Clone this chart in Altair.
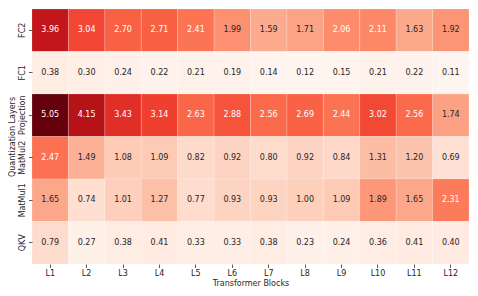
import altair as alt
import pandas as pd

rows = ["FC2", "FC1", "Projection", "MatMul2", "MatMul1", "QKV"]
cols = ["L1", "L2", "L3", "L4", "L5", "L6", "L7", "L8", "L9", "L10", "L11", "L12"]

fc2 = [3.96, 3.04, 2.70, 2.71, 2.41, 1.99, 1.59, 1.71, 2.06, 2.11, 1.63, 1.92]
fc1 = [0.38, 0.30, 0.24, 0.22, 0.21, 0.19, 0.14, 0.12, 0.15, 0.21, 0.22, 0.11]
projection = [5.05, 4.15, 3.43, 3.14, 2.63, 2.88, 2.56, 2.69, 2.44, 3.02, 2.56, 1.74]
matmul2 = [2.47, 1.49, 1.08, 1.09, 0.82, 0.92, 0.80, 0.92, 0.84, 1.31, 1.20, 0.69]
matmul1 = [1.65, 0.74, 1.01, 1.27, 0.77, 0.93, 0.93, 1.00, 1.09, 1.89, 1.65, 2.31]
qkv = [0.79, 0.27, 0.38, 0.41, 0.33, 0.33, 0.38, 0.23, 0.24, 0.36, 0.41, 0.40]

series = [fc2, fc1, projection, matmul2, matmul1, qkv]

records = []
for r, vals in zip(rows, series):
    for c, v in zip(cols, vals):
        records.append({"layer": r, "block": c, "value": v})
df = pd.DataFrame(records)

# matplotlib "Reds" colormap anchor colours
reds = ["#fff5f0", "#fee0d2", "#fcbba1", "#fc9272", "#fb6a4a",
        "#ef3b2c", "#cb181d", "#a50f15", "#67000d"]
vmin = float(df["value"].min())
vmax = float(df["value"].max())
stops = [vmin + (vmax - vmin) * i / (len(reds) - 1) for i in range(len(reds))]

FONT = "DejaVu Sans"

base = alt.Chart(df).encode(
    x=alt.X("block:N", sort=cols, title="Transformer Blocks",
            axis=alt.Axis(labelAngle=0)),
    y=alt.Y("layer:N", sort=rows, title="Quantization Layers",
            axis=alt.Axis(labelAngle=270, labelAlign="center",
                          labelBaseline="bottom")),
)

heat = base.mark_rect(stroke="white", strokeWidth=0.5, strokeOpacity=0.35).encode(
    color=alt.Color("value:Q",
                    scale=alt.Scale(domain=stops, range=reds, interpolate="rgb"),
                    legend=None)
)

labels = base.mark_text(font=FONT, fontSize=8).encode(
    text=alt.Text("value:Q", format=".2f"),
    color=alt.condition("datum.value >= 2", alt.value("white"), alt.value("#262626")),
)

chart = (heat + labels).properties(
    width=462,
    height=280,
    padding=0,
    autosize=alt.AutoSizeParams(type="fit", contains="padding"),
).configure_view(
    strokeWidth=0
).configure_axis(
    labelFont=FONT,
    titleFont=FONT,
    labelFontSize=8,
    titleFontSize=8,
    titleFontWeight="normal",
    labelColor="#262626",
    titleColor="#262626",
    domain=False,
    grid=False,
    tickSize=3.5,
    tickColor="#333333",
    tickWidth=0.8,
    labelPadding=2,
    titlePadding=2,
)

chart.save("out.html", embed_options={"renderer": "svg", "actions": False})
